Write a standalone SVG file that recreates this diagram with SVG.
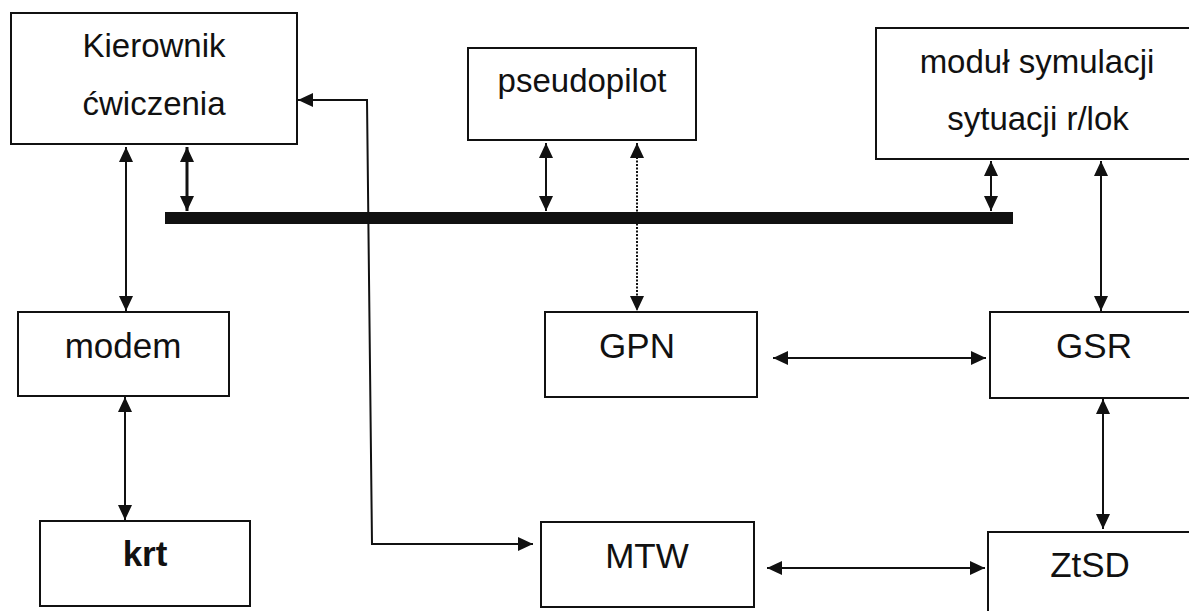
<svg xmlns="http://www.w3.org/2000/svg" width="1189" height="611" viewBox="0 0 1189 611">
  <style>
    .box { fill: #ffffff; stroke: #111111; stroke-width: 2; }
    .lbl { font-family: "Liberation Sans", Arial, sans-serif; fill: #111111; text-anchor: middle; }
    .top { font-size: 33px; }
    .bot { font-size: 35px; }
    .bold { font-weight: bold; }
    .link { fill: none; stroke: #111111; stroke-width: 2; marker-start: url(#head); marker-end: url(#head); }
    .thick { stroke-width: 3; }
    .dotted { stroke-width: 2; stroke-dasharray: 2 1.5; }
  </style>
  <defs>
    <marker id="head" viewBox="0 0 15 14" refX="15" refY="7" markerWidth="15" markerHeight="14" markerUnits="userSpaceOnUse" orient="auto-start-reverse">
      <path d="M0,0 L15,7 L0,14 Z" fill="#111111"/>
    </marker>
  </defs>

  <rect x="0" y="0" width="1189" height="611" fill="#ffffff"/>

  <!-- shared bus -->
  <rect id="bus" x="165" y="212" width="848" height="12" fill="#111111"/>

  <!-- connectors -->
  <g id="connectors">
    <path class="link" d="M126,147 L126,311"/>
    <path class="link thick" d="M187,147 L187,211"/>
    <path class="link" d="M546,143 L546,211"/>
    <path class="link dotted" d="M637,143 L637,311"/>
    <path class="link" d="M991,161 L991,211"/>
    <path class="link" d="M1101,161 L1101,311"/>
    <path class="link" d="M773,358 L986,358"/>
    <path class="link" d="M1103,399 L1103,529"/>
    <path class="link" d="M767,568 L985,568"/>
    <path class="link" d="M125,397 L125,520"/>
    <path class="link" d="M533,544 L372,544 L367,100 L298,100"/>
  </g>

  <!-- nodes -->
  <g id="kierownik">
    <rect class="box" x="11" y="13" width="286" height="131"/>
    <text class="lbl top" x="154" y="57">Kierownik</text>
    <text class="lbl top" x="154" y="115">ćwiczenia</text>
  </g>
  <g id="pseudopilot">
    <rect class="box" x="468" y="48" width="228" height="92"/>
    <text class="lbl top" x="582" y="92">pseudopilot</text>
  </g>
  <g id="modul">
    <rect class="box" x="876" y="28" width="330" height="131"/>
    <text class="lbl top" x="1037" y="73">moduł symulacji</text>
    <text class="lbl top" x="1038" y="130">sytuacji r/lok</text>
  </g>
  <g id="modem">
    <rect class="box" x="18" y="312" width="211" height="84"/>
    <text class="lbl bot" x="123" y="358">modem</text>
  </g>
  <g id="gpn">
    <rect class="box" x="545" y="312" width="212" height="85"/>
    <text class="lbl bot" x="637" y="358">GPN</text>
  </g>
  <g id="gsr">
    <rect class="box" x="990" y="312" width="220" height="86"/>
    <text class="lbl bot" x="1094" y="358">GSR</text>
  </g>
  <g id="krt">
    <rect class="box" x="40" y="521" width="210" height="85"/>
    <text class="lbl bot bold" x="145" y="566">krt</text>
  </g>
  <g id="mtw">
    <rect class="box" x="541" y="522" width="213" height="85"/>
    <text class="lbl bot" x="647" y="568">MTW</text>
  </g>
  <g id="ztsd">
    <rect class="box" x="988" y="532" width="220" height="100"/>
    <text class="lbl bot" x="1090" y="577">ZtSD</text>
  </g>
</svg>
